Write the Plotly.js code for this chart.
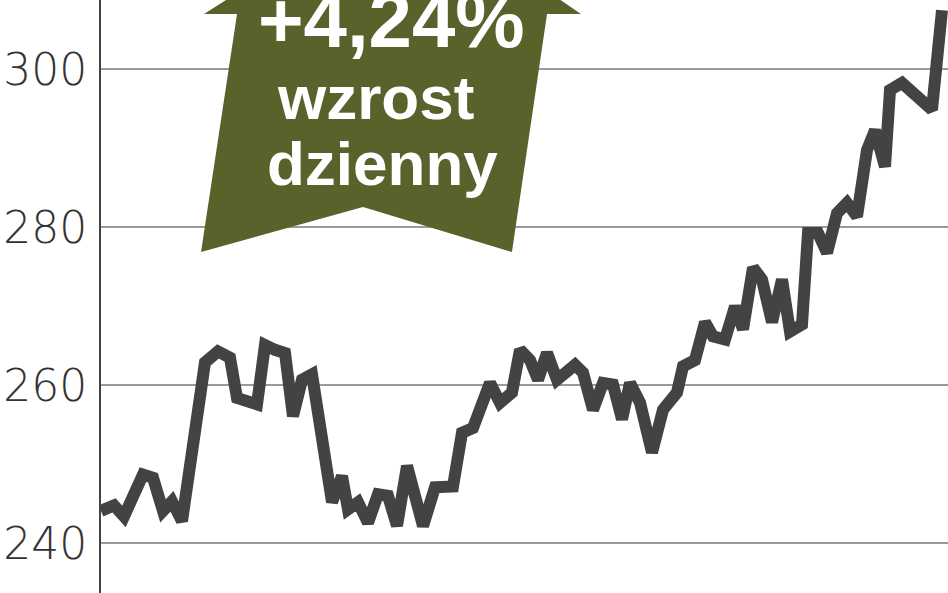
<!DOCTYPE html>
<html>
<head>
<meta charset="utf-8">
<script src="https://cdn.plot.ly/plotly-3.0.1.min.js"></script>
<style>
  html, body { margin: 0; padding: 0; background: #fff; }
  #chart { width: 948px; height: 593px; }
</style>
</head>
<body>
<div id="chart"></div>
<script>
// sessions (position along the time axis) and closing values
var sessions = [0, 13, 23, 42, 52, 62, 71, 81, 104, 117, 129, 136, 156, 164, 174, 184, 192, 201, 211,
  231, 241, 247, 257, 267, 277, 287, 296, 306, 322, 334, 352, 361, 372, 389, 399, 411, 419, 429,
  437, 446, 456, 474, 482, 492, 502, 512, 521, 529, 539, 551, 562, 576, 582, 594, 604, 612, 624,
  634, 642, 652, 661, 671, 681, 689, 701, 707, 717, 726, 736, 746, 756, 766, 774, 784, 789, 801,
  831, 841];
var closes = [244.1, 244.8, 243.4, 248.7, 248.3, 244.1, 245.3, 242.8, 262.9, 264.3, 263.5, 258.4,
  257.6, 265.1, 264.5, 264.1, 256.1, 260.7, 261.4, 245.2, 248.5, 244.3, 245.2, 242.6, 246.2, 246.0,
  242.2, 249.8, 242.2, 247.1, 247.2, 254.0, 254.6, 260.3, 257.8, 259.1, 264.5, 263.2, 260.7, 264.1,
  260.7, 262.6, 261.6, 256.9, 260.3, 260.1, 255.7, 260.3, 257.8, 251.5, 256.9, 259.1, 262.4, 263.2,
  268.0, 266.2, 265.8, 270.0, 267.1, 274.9, 273.4, 268.0, 273.4, 266.8, 267.7, 279.3, 279.3, 276.8,
  281.8, 283.1, 281.4, 289.8, 292.3, 287.7, 297.4, 298.3, 294.9, 307.5];

var yTicks = [240, 260, 280, 300];
var badgeLines = ['+4,24%', 'wzrost', 'dzienny'];

var W = 948, H = 593, L = 101;
// pixel -> paper helpers for the badge
function px(x) { return (x - L) / (W - L); }
function py(y) { return 1 - y / H; }

var arrowPts = [[245, -12], [204, 14], [237, 14], [201, 252], [363, 207], [512, 252], [547, 14], [581, 14], [543, -12]];
var path = arrowPts.map(function (p, i) {
  return (i ? 'L' : 'M') + px(p[0]).toFixed(4) + ',' + py(p[1]).toFixed(4);
}).join(' ') + ' Z';

var trace = {
  x: sessions,
  y: closes,
  type: 'scatter',
  mode: 'lines',
  line: { color: '#434343', width: 12, shape: 'linear' },
  hoverinfo: 'skip'
};

var layout = {
  width: W,
  height: H,
  margin: { l: L, r: 0, t: 0, b: 0, pad: 0 },
  paper_bgcolor: '#ffffff',
  plot_bgcolor: '#ffffff',
  showlegend: false,
  xaxis: {
    range: [0, W - L],
    showgrid: false,
    zeroline: false,
    showticklabels: false,
    showline: false,
    fixedrange: true
  },
  yaxis: {
    range: [233.7, 308.8],
    tickvals: yTicks,
    ticktext: yTicks.map(String),
    showgrid: true,
    gridcolor: '#9a9a9a',
    gridwidth: 2,
    zeroline: false,
    showline: true,
    linecolor: '#444444',
    linewidth: 2,
    ticks: '',
    ticklabelstandoff: 3,
    tickfont: { family: 'DejaVu Sans', size: 44, color: '#333333', weight: 200 },
    fixedrange: true
  },
  shapes: [{
    type: 'path',
    xref: 'paper',
    yref: 'paper',
    path: path,
    fillcolor: '#5b612b',
    line: { width: 0 },
    layer: 'above'
  }],
  annotations: [
    { text: badgeLines[0], x: px(391), y: py(20), size: 78 },
    { text: badgeLines[1], x: px(375), y: py(98), size: 62 },
    { text: badgeLines[2], x: px(382), y: py(163), size: 62 }
  ].map(function (a) {
    return {
      text: a.text,
      xref: 'paper', yref: 'paper',
      x: a.x, y: a.y,
      xanchor: 'center', yanchor: 'middle',
      showarrow: false,
      font: { family: 'Liberation Sans', size: a.size, color: '#ffffff', weight: 700 }
    };
  })
};

Plotly.newPlot('chart', [trace], layout, { staticPlot: true, displayModeBar: false });
</script>
</body>
</html>
